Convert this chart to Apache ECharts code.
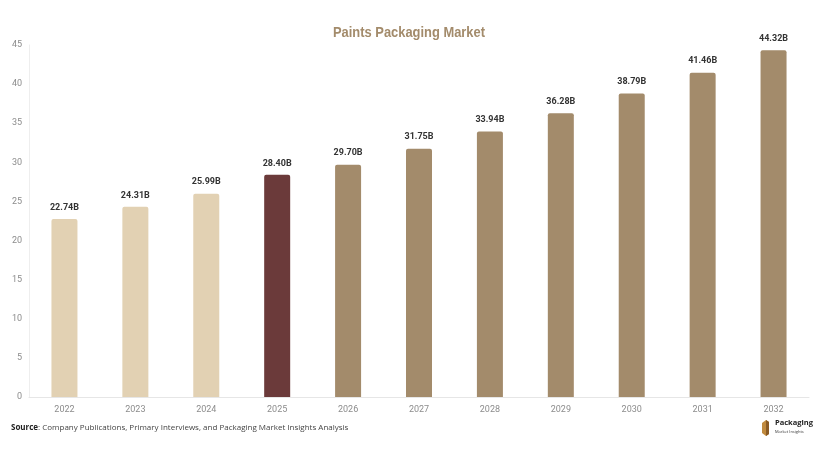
<!DOCTYPE html>
<html><head><meta charset="utf-8">
<script src="https://cdn.jsdelivr.net/npm/echarts@6/dist/echarts.min.js"></script>
<style>html,body{margin:0;padding:0;background:#fff}#c{width:820px;height:454px}</style>
</head><body><div id="c"></div>
<script>
const categories = ['2022','2023','2024','2025','2026','2027','2028','2029','2030','2031','2032'];
const values = [22.74, 24.31, 25.99, 28.40, 29.70, 31.75, 33.94, 36.28, 38.79, 41.46, 44.32];
const barColors = ['#E2D1B3','#E2D1B3','#E2D1B3','#6B3A3A','#A38B6B','#A38B6B','#A38B6B','#A38B6B','#A38B6B','#A38B6B','#A38B6B'];
const yTicks = [0,5,10,15,20,25,30,35,40,45];

const chart = echarts.init(document.getElementById('c'));
chart.setOption({
  animation: false,
  grid: { left: 29, right: 11, top: 45, bottom: 57 },
  xAxis: {
    type: 'category', data: categories,
    axisLine: { lineStyle: { color: '#E6E6E6' } },
    axisTick: { show: false },
    axisLabel: { color: '#8C8C8C', fontSize: 9, margin: 8, fontFamily: 'Roboto, sans-serif' }
  },
  yAxis: {
    type: 'value', min: yTicks[0], max: yTicks[yTicks.length-1], interval: 5,
    axisLine: { show: true, lineStyle: { color: '#EEEEEE' } },
    splitLine: { show: false },
    axisLabel: { color: '#8C8C8C', fontSize: 9, margin: 7, fontFamily: 'Roboto, sans-serif' }
  },
  series: [{
    type: 'bar', barWidth: 26,
    data: values.map((v, i) => ({ value: v, itemStyle: { color: barColors[i] } })),
    itemStyle: { borderRadius: [2,2,0,0] },
    label: {
      show: true, position: 'top', distance: 7,
      formatter: p => p.value.toFixed(2) + 'B',
      color: '#333', fontSize: 9, fontWeight: 'bold', fontFamily: 'Roboto, sans-serif'
    }
  }],
  graphic: [
    { type: 'text', x: 409, y: 33, scaleX: 0.86,
      style: { text: 'Paints Packaging Market', fill: '#A38B6B', fontSize: 15, fontWeight: 'bold', fontFamily: 'Liberation Sans, Arial, sans-serif', align: 'center', verticalAlign: 'middle' } },
    { type: 'text', left: 11, top: 424, style: { rich: { b: { fontWeight: 'bold', fontSize: 8, fill: '#222', fontFamily: 'Open Sans' }, n: { fontSize: 8, fill: '#444', fontFamily: 'Open Sans' } }, text: '{b|Source}{n|: Company Publications, Primary Interviews, and Packaging Market Insights Analysis}' } },
    { type: 'polygon', shape: { points: [[762,423],[766,420],[769,422],[769,434],[766,436],[762,433]] }, style: { fill: '#C08A3E' } },
    { type: 'polygon', shape: { points: [[766,420],[769,422],[769,434],[766,436]] }, style: { fill: '#8A5A24' } },
    { type: 'text', left: 775, top: 419, style: { text: 'Packaging', fontSize: 7.5, fontWeight: 'bold', fill: '#222', fontFamily: 'Open Sans' } },
    { type: 'text', left: 775, top: 430, style: { text: 'Market Insights', fontSize: 4, fill: '#333', fontFamily: 'Open Sans' } }
  ]
});
</script>
</body></html>
